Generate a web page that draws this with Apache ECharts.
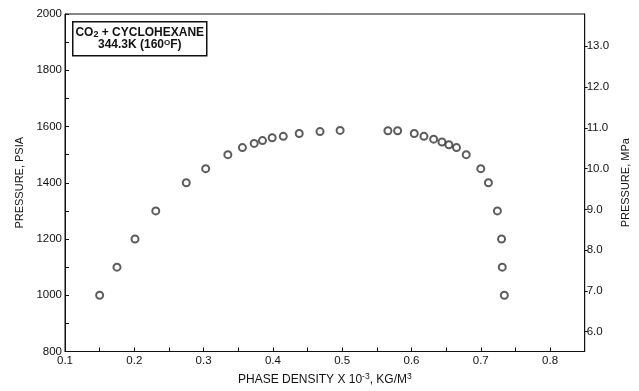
<!DOCTYPE html>
<html>
<head>
<meta charset="utf-8">
<script src="https://cdn.jsdelivr.net/npm/echarts@6/dist/echarts.min.js"></script>
<style>html,body{margin:0;padding:0;background:#fff;}#c{width:639px;height:391px;}</style>
</head>
<body>
<div id="c"></div>
<script>
const density = [0.150,0.175,0.201,0.231,0.275,0.303,0.335,0.356,0.373,0.385,0.399,0.415,0.438,0.468,0.497,
                 0.566,0.580,0.604,0.618,0.632,0.644,0.654,0.665,0.679,0.700,0.711,0.724,0.730,0.731,0.734];
const pressure = [1000,1100,1200,1300,1400,1450,1500,1525,1540,1550,1560,1565,1575,1582,1586,
                  1585,1585,1575,1565,1555,1545,1535,1525,1500,1450,1400,1300,1200,1100,1000];
const xLabels = [0.1,0.2,0.3,0.4,0.5,0.6,0.7,0.8];
const xTicks = [0.1,0.15,0.2,0.25,0.3,0.35,0.4,0.45,0.5,0.55,0.6,0.65,0.7,0.75,0.8,0.85];
const psiLabels = [800,1000,1200,1400,1600,1800,2000];
const psiTicks = [800,900,1000,1100,1200,1300,1400,1500,1600,1700,1800,1900,2000];
const mpaLabels = [6,7,8,9,10,11,12,13];
const PSI_PER_MPA = 145.038;
const psiMin = 800, psiMax = 2000;

const FONT = '"Liberation Sans", Arial, sans-serif';
const INK = '#111';

const chart = echarts.init(document.getElementById('c'));
chart.setOption({
  animation: false,
  backgroundColor: '#fff',
  textStyle: {fontFamily: FONT, color: INK},
  grid: {left: 65, right: 43, top: 14, bottom: 35, show: true, borderColor: INK, borderWidth: 1, backgroundColor: 'transparent'},
  xAxis: {
    type: 'value', min: 0.1, max: 0.85,
    axisLine: {show: true, lineStyle: {color: INK, width: 1}},
    axisTick: {show: true, inside: true, length: 4, customValues: xTicks, lineStyle: {color: INK}},
    axisLabel: {customValues: xLabels, color: INK, fontFamily: FONT, fontSize: 11.5, margin: 3, formatter: v => v.toFixed(1)},
    splitLine: {show: false},
    name: 'PHASE DENSITY X 10{sup|-3}, KG/M{sup|3}',
    nameLocation: 'middle', nameGap: 21,
    nameTextStyle: {color: INK, fontFamily: FONT, fontSize: 12,
      rich: {sup: {fontSize: 8.5, verticalAlign: 'top', color: INK, fontFamily: FONT, padding: [0,0,6,0]}}}
  },
  yAxis: [{
    type: 'value', min: psiMin, max: psiMax, position: 'left',
    axisLine: {show: true, lineStyle: {color: INK, width: 1}},
    axisTick: {show: true, inside: true, length: 4, customValues: psiTicks, lineStyle: {color: INK}},
    axisLabel: {customValues: psiLabels, color: INK, fontFamily: FONT, fontSize: 11.5, margin: 3, formatter: v => String(v)},
    splitLine: {show: false},
    name: 'PRESSURE, PSIA', nameLocation: 'middle', nameGap: 36, nameRotate: 90,
    nameTextStyle: {color: INK, fontFamily: FONT, fontSize: 11}
  }, {
    type: 'value', min: psiMin / PSI_PER_MPA, max: psiMax / PSI_PER_MPA, position: 'right',
    axisLine: {show: true, lineStyle: {color: INK, width: 1}},
    axisTick: {show: true, inside: false, length: 3, customValues: mpaLabels, lineStyle: {color: INK}},
    axisLabel: {customValues: mpaLabels, color: INK, fontFamily: FONT, fontSize: 11.5, margin: 2, formatter: v => v.toFixed(1)},
    splitLine: {show: false},
    name: 'PRESSURE, MPa', nameLocation: 'middle', nameGap: 32, nameRotate: 90,
    nameTextStyle: {color: INK, fontFamily: FONT, fontSize: 11}
  }],
  graphic: [{
    type: 'group', left: 72, top: 21,
    children: [
      {type: 'rect', shape: {x: 0, y: 0, width: 134, height: 34}, style: {fill: '#fff', stroke: INK, lineWidth: 1.5}},
      {type: 'text', x: 67, y: 4, style: {text: 'CO{sub|2} + CYCLOHEXANE', align: 'center', fill: INK, font: 'bold 12px ' + FONT,
        rich: {sub: {fontSize: 9, fontWeight: 'bold', verticalAlign: 'bottom', padding: [4,0,0,0], fill: INK, fontFamily: FONT}}}},
      {type: 'text', x: 67, y: 17, style: {text: '344.3K (160{sup|O}F)', align: 'center', fill: INK, font: 'bold 12px ' + FONT,
        rich: {sup: {fontSize: 8, fontWeight: 'bold', verticalAlign: 'top', padding: [0,0,4,0], fill: INK, fontFamily: FONT}}}}
    ]
  }],
  series: [{
    type: 'scatter', xAxisIndex: 0, yAxisIndex: 0,
    symbol: 'emptyCircle', symbolSize: 7,
    itemStyle: {color: '#333', borderColor: '#333', borderWidth: 1},
    data: density.map((d, i) => [d, pressure[i]])
  }]
});
</script>
</body>
</html>
